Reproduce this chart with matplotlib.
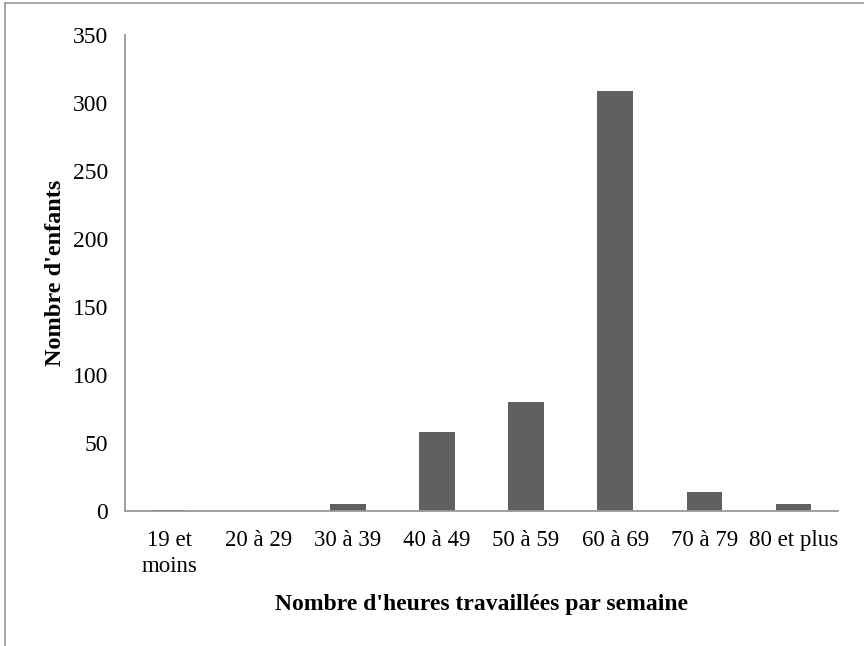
import numpy as np
import matplotlib.pyplot as plt
from matplotlib.lines import Line2D

categories = ["19 et\nmoins", "20 à 29", "30 à 39", "40 à 49", "50 à 59",
              "60 à 69", "70 à 79", "80 et plus"]
enfants = [1, 0, 5, 58, 80, 309, 14, 5]

plt.rcParams['font.family'] = ['Liberation Serif', 'DejaVu Serif']

fig = plt.figure(figsize=(8.64, 6.46), dpi=100)
ax = fig.add_axes([0.1447, 0.209, 0.8253, 0.737])

x = np.arange(len(categories))
ax.bar(x, enfants, width=0.4, color='#606060')

ax.set_xlim(-0.5, len(categories) - 0.5)
ax.set_ylim(0, 350)
ax.set_yticks(np.arange(0, 351, 50))
ax.set_xticks(x)
ax.set_xticklabels(categories, fontsize=16.5, linespacing=1.3)
ax.tick_params(axis='y', labelsize=17, length=0, pad=12)
ax.tick_params(axis='x', length=0, pad=14)

for s in ['top', 'right']:
    ax.spines[s].set_visible(False)
for s in ['left', 'bottom']:
    ax.spines[s].set_color('#999999')
    ax.spines[s].set_linewidth(1.3)

ax.set_ylabel("Nombre d'enfants", fontsize=17.5, fontweight='bold', labelpad=5)
ax.set_xlabel("Nombre d'heures travaillées par semaine", fontsize=17,
              fontweight='bold', labelpad=12)

# outer frame (top and left edges only)
fig.add_artist(Line2D([0.006, 0.006], [0, 0.995], transform=fig.transFigure,
                      color='#999999', lw=1.2))
fig.add_artist(Line2D([0.006, 1.0], [0.995, 0.995], transform=fig.transFigure,
                      color='#999999', lw=1.2))

fig.savefig('out.png', dpi=100)
